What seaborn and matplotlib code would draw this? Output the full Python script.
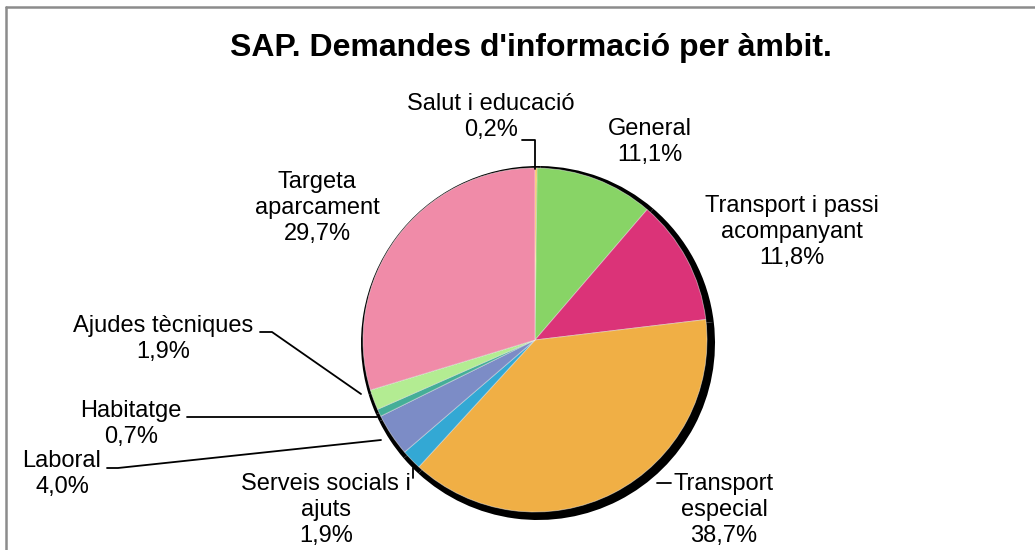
import matplotlib
matplotlib.use("Agg")
import matplotlib.pyplot as plt
import seaborn as sns

# Dades
ambits = ["Salut i educació", "General", "Transport i passi\nacompanyant",
          "Transport\nespecial", "Serveis socials i\najuts", "Laboral",
          "Habitatge", "Ajudes tècniques", "Targeta\naparcament"]
percentatges = [0.2, 11.1, 11.8, 38.7, 1.9, 4.0, 0.7, 1.9, 29.7]
colors = ["#F2B33D", "#88D466", "#DB3378", "#F0AF45", "#33A8D4",
          "#7C8CC6", "#45AE98", "#B3EC92", "#F08BA8"]

sns.set_theme(style="white")
plt.rcParams["font.family"] = ["Liberation Sans", "DejaVu Sans"]

fig = plt.figure(figsize=(10.35, 5.5), dpi=100)
ax = fig.add_axes([0, 0, 1, 1])

cx, cy, r = 535, 210, 172

# ombra
ax.pie(percentatges, colors=["black"] * len(percentatges), startangle=90,
       counterclock=False, center=(cx + 3, cy - 3), radius=r + 5,
       wedgeprops=dict(linewidth=0))
# pastís
ax.pie(percentatges, colors=colors, startangle=90, counterclock=False,
       center=(cx, cy), radius=r,
       wedgeprops=dict(linewidth=0.6, edgecolor="#ffffff80"))
ax.set_xlim(0, 1035)
ax.set_ylim(0, 550)
ax.set_aspect("equal")
ax.axis("off")

# etiquetes
pos = [(491, 117), (650, 142), (792, 232), (724, 510), (326, 510),
       (62, 474), (131, 424), (163, 339), (317, 208)]
for nom, p, (x, y) in zip(ambits, percentatges, pos):
    txt = f"{nom}\n{p:.1f}%".replace(".", ",")
    ax.text(x, 550 - y, txt, ha="center", va="center", fontsize=17,
            color="black", linespacing=1.22)

# línies guia
guies = [
    [(522, 140), (535, 140), (535, 169)],
    [(260, 332), (272, 332), (361, 394)],
    [(187, 417), (377, 417)],
    [(107, 468), (118, 468), (381, 440)],
    [(413, 478), (413, 468)],
    [(657, 483), (671, 483)],
]
for g in guies:
    xs = [a for a, b in g]
    ys = [550 - b for a, b in g]
    ax.plot(xs, ys, color="black", lw=1.3)

fig.text(531 / 1035, 1 - 48 / 550, "SAP. Demandes d'informació per àmbit.",
         ha="center", va="center", fontsize=23, fontweight="bold",
         color="black")

# marc
ax.plot([6, 6], [0, 550 - 7], color="#8c8c8c", lw=1.8, clip_on=False)
ax.plot([6, 1035], [550 - 7, 550 - 7], color="#8c8c8c", lw=1.8, clip_on=False)

fig.savefig("out.png", dpi=100)
